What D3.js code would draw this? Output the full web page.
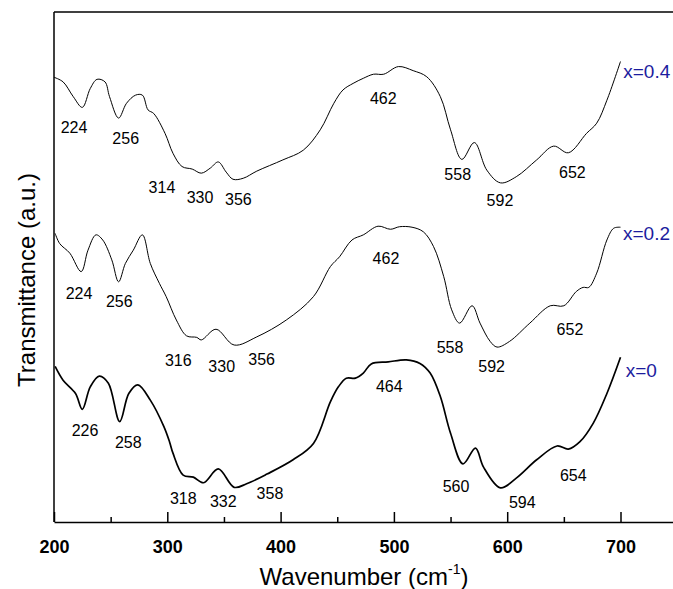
<!DOCTYPE html>
<html lang="en">
    <head>
        <meta charset="utf-8">
        <title>FTIR spectra</title>
        <script type="text/javascript" src="https://cdn.jsdelivr.net/npm/d3@7"></script>
        <style>
            body { margin: 0; background: #fff; }
            text { font-family: Arial, "Liberation Sans", sans-serif; }
        </style>
    </head>
    <body>
        <script type="text/javascript">

			/* data (wavenumber in cm-1, transmittance in a.u.) */
			var wave04 = [200, 208, 217, 225, 232, 238, 245, 249, 257, 264, 272, 278, 283, 288, 298, 305, 313, 322,
							330, 338, 345, 352, 358, 367, 379, 402, 420, 435, 447, 455, 464, 473, 482, 491, 504, 517,
							529, 541, 550, 560, 571, 582, 594, 608, 626, 641, 654, 670, 679, 688, 700];
			var trans04 = [87.2, 86.3, 83.4, 81.3, 85.0, 86.8, 86.3, 83.4, 79.2, 82.1, 83.7, 83.7, 80.8, 80.1, 76.2,
							72.3, 69.7, 69.2, 68.4, 69.4, 70.6, 68.6, 67.2, 67.4, 68.8, 71.0, 72.9, 76.9, 82.1, 84.7,
							86.0, 87.0, 87.8, 87.8, 89.3, 88.5, 87.3, 83.4, 76.9, 71.1, 74.4, 69.0, 66.5, 67.7, 71.0,
							73.7, 72.4, 76.2, 78.2, 82.7, 90.3];

			var wave02 = [201, 205, 214, 224, 230, 237, 243, 251, 257, 263, 270, 278, 285, 293, 299, 308, 317, 326,
							330, 343, 359, 379, 405, 429, 444, 452, 463, 473, 486, 497, 505, 516, 526, 535, 544, 551,
							558, 569, 576, 585, 591, 602, 620, 638, 650, 661, 667, 672, 679, 688, 694, 700];
			var trans02 = [56.6, 54.6, 52.7, 49.1, 53.3, 56.3, 55.3, 51.4, 47.1, 50.7, 53.3, 56.3, 50.7, 46.8, 44.2,
							39.6, 36.5, 36.2, 35.7, 37.8, 34.7, 36.3, 39.6, 44.2, 50.1, 52.0, 55.3, 56.3, 58.0, 57.4,
							57.9, 57.8, 56.9, 54.0, 48.1, 41.6, 39.0, 42.4, 39.0, 35.4, 34.3, 35.4, 39.0, 42.4, 42.4,
							45.2, 46.0, 46.0, 48.8, 55.3, 57.6, 57.8];

			var wave0 = [201, 208, 219, 225, 232, 240, 248, 258, 266, 274, 285, 297, 302, 305, 314, 323, 332, 345,
							359, 370, 388, 411, 429, 444, 451, 458, 466, 473, 480, 495, 511, 523, 532, 541, 550, 561,
							572, 579, 594, 608, 626, 644, 654, 664, 676, 688, 700];
			var trans0 = [30.5, 27.8, 25.2, 22.1, 26.5, 28.6, 27.2, 19.7, 25.2, 26.9, 23.9, 18.7, 15.7, 13.5, 9.2,
							8.8, 7.7, 10.4, 6.8, 7.5, 9.4, 12.2, 15.4, 23.6, 26.5, 28.2, 28.2, 29.2, 31.0, 31.4, 31.8,
							31.1, 29.2, 24.6, 17.4, 11.4, 14.5, 10.8, 6.7, 8.6, 12.2, 14.9, 14.3, 15.7, 19.4, 25.2, 32.3];

			/* peak labels: text, wavenumber, transmittance */
			var peakText04 = ["224", "256", "314", "330", "356", "462", "558", "592", "652"];
			var peakWave04 = [217.7, 263.3, 295.3, 328.9, 362.7, 490.6, 556.3, 593.6, 657.5];
			var peakTrans04 = [76.3, 74.1, 64.6, 62.5, 62.2, 81.9, 67.1, 62.0, 67.4];

			var peakText02 = ["224", "256", "316", "330", "356", "462", "558", "592", "652"];
			var peakWave02 = [222.1, 257.6, 309.7, 348.0, 383.3, 493.0, 549.5, 586.3, 655.4];
			var peakTrans02 = [43.8, 42.2, 30.6, 29.4, 30.7, 50.5, 33.1, 29.4, 36.6];

			var peakText0 = ["226", "258", "318", "332", "358", "464", "560", "594", "654"];
			var peakWave0 = [227.4, 265.6, 314.1, 349.4, 390.6, 495.9, 554.8, 613.3, 658.3];
			var peakTrans0 = [16.9, 14.6, 3.5, 3.0, 4.6, 25.5, 5.9, 2.7, 8.0];

			/* sample names */
			var sampleNames = ["x=0.4", "x=0.2", "x=0"];
			var sampleWave = [702.4, 702.2, 704.6];
			var sampleTrans = [87.1, 55.3, 28.4];

			var majorTicks = [200, 300, 400, 500, 600, 700];
			var minorTicks = [250, 350, 450, 550, 650];

			/* SVG object */
			var w = 673;
			var h = 589;
			var svg = d3.select("body")
						.append("svg")
						.attr("width", w)
						.attr("height", h);

			var padLeft = 54, padTop = 12, axisY = 522;

			var xScale = d3.scaleLinear()
							.domain([200, 750])
							.range([padLeft, padLeft + 550 * 1.133]);
			var yScale = d3.scaleLinear()
							.domain([0, 100])
							.range([axisY, padTop]);

			// frame: left and top lines
			svg.append("line")
				.attr("x1", padLeft).attr("x2", padLeft)
				.attr("y1", padTop).attr("y2", axisY)
				.attr("stroke", "#000")
				.attr("stroke-width", 1.5);
			svg.append("line")
				.attr("x1", padLeft).attr("x2", w)
				.attr("y1", padTop).attr("y2", padTop)
				.attr("stroke", "#000")
				.attr("stroke-width", 1.5);

			// bottom axis
			var xAxis = d3.axisBottom(xScale)
							.tickValues(majorTicks)
							.tickSizeInner(-10)
							.tickSizeOuter(0)
							.tickPadding(18);
			var gx = svg.append("g")
						.attr("transform", "translate(0," + axisY + ")")
						.call(xAxis);
			gx.select(".domain").attr("stroke-width", 1.5);
			gx.selectAll(".tick line").attr("stroke-width", 1.5);
			gx.selectAll(".tick text")
				.attr("font-family", "Arial, 'Liberation Sans', sans-serif")
				.attr("font-size", "18px")
				.attr("font-weight", "bold")
				.attr("fill", "#000");

			var xMinor = d3.axisBottom(xScale)
							.tickValues(minorTicks)
							.tickSizeInner(-5)
							.tickSizeOuter(0)
							.tickFormat("");
			var gm = svg.append("g")
						.attr("transform", "translate(0," + axisY + ")")
						.call(xMinor);
			gm.select(".domain").remove();
			gm.selectAll(".tick line").attr("stroke-width", 1.5);

			// spectra
			var line = d3.line()
						.x(function(d) { return xScale(d[0]); })
						.y(function(d) { return yScale(d[1]); })
						.curve(d3.curveCatmullRom.alpha(0.5));

			var spectra = [
				{wave: wave04, trans: trans04, width: 1},
				{wave: wave02, trans: trans02, width: 1},
				{wave: wave0, trans: trans0, width: 1.7}
			];
			spectra.forEach(function(s) {
				svg.append("path")
					.datum(d3.zip(s.wave, s.trans))
					.attr("d", line)
					.attr("fill", "none")
					.attr("stroke", "#000")
					.attr("stroke-width", s.width);
			});

			// peak labels
			var peaks = [
				d3.zip(peakText04, peakWave04, peakTrans04),
				d3.zip(peakText02, peakWave02, peakTrans02),
				d3.zip(peakText0, peakWave0, peakTrans0)
			];
			peaks.forEach(function(p) {
				svg.append("g")
					.selectAll("text")
					.data(p)
					.enter()
					.append("text")
					.text(function(d) { return d[0]; })
					.attr("x", function(d) { return xScale(d[1]); })
					.attr("y", function(d) { return yScale(d[2]); })
					.attr("text-anchor", "middle")
					.attr("font-size", "16px")
					.attr("fill", "#000");
			});

			// sample names
			svg.selectAll(".sample")
				.data(d3.zip(sampleNames, sampleWave, sampleTrans))
				.enter()
				.append("text")
				.attr("class", "sample")
				.text(function(d) { return d[0]; })
				.attr("x", function(d) { return xScale(d[1]); })
				.attr("y", function(d) { return yScale(d[2]); })
				.attr("font-size", "19px")
				.attr("fill", "#1c1c9e");

			// axis titles
			var xt = svg.append("text")
						.attr("x", 364)
						.attr("y", 585)
						.attr("text-anchor", "middle")
						.attr("font-size", "24px")
						.attr("fill", "#000");
			xt.append("tspan").text("Wavenumber (cm");
			xt.append("tspan").text("-1").attr("font-size", "14px").attr("dy", -11);
			xt.append("tspan").text(")").attr("dy", 11);

			svg.append("text")
				.attr("transform", "rotate(-90)")
				.attr("x", -280)
				.attr("y", 35)
				.attr("text-anchor", "middle")
				.attr("font-size", "24px")
				.attr("fill", "#000")
				.text("Transmittance (a.u.)");
		</script>
	</body>
</html>
